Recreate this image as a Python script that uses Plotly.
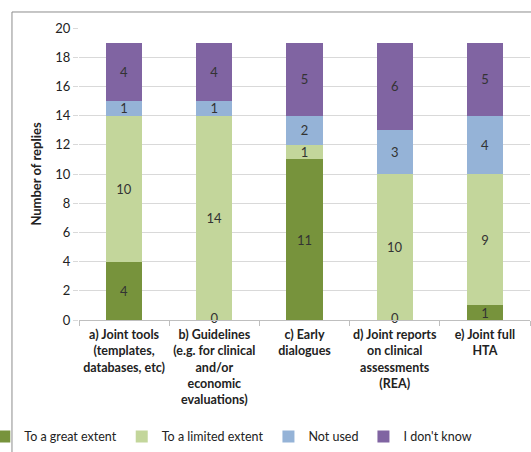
import plotly.graph_objects as go

categories = [
    "a) Joint tools<br>(templates,<br>databases, etc)",
    "b) Guidelines<br>(e.g. for clinical<br>and/or<br>economic<br>evaluations)",
    "c) Early<br>dialogues",
    "d) Joint reports<br>on clinical<br>assessments<br>(REA)",
    "e) Joint full<br>HTA",
]
great_extent = [4, 0, 11, 0, 1]
limited_extent = [10, 14, 1, 10, 9]
not_used = [1, 1, 2, 3, 4]
dont_know = [4, 4, 5, 6, 5]

series = [
    ("To a great extent", great_extent, "#77933C"),
    ("To a limited extent", limited_extent, "#C3D69B"),
    ("Not used", not_used, "#95B3D7"),
    ("I don't know", dont_know, "#8064A2"),
]

FONT = "Lato, 'Liberation Sans', sans-serif"
fig = go.Figure()
for name, vals, color in series:
    fig.add_trace(go.Bar(
        x=categories, y=vals, name=name, marker=dict(color=color, line=dict(width=0)),
        text=[str(v) if v > 0 else "" for v in vals],
        textposition="inside", insidetextanchor="middle", textangle=0,
        constraintext="none",
        textfont=dict(family=FONT, size=13, color="#333333"),
        hoverinfo="skip",
    ))

# zero labels for first series
zero_x = [c for c, v in zip(categories, great_extent) if v == 0]
zero_y = [v for v in great_extent if v == 0]
fig.add_trace(go.Scatter(
    x=zero_x, y=zero_y, mode="text", text=[str(v) for v in zero_y],
    textposition="middle center", showlegend=False, hoverinfo="skip",
    textfont=dict(family=FONT, size=13, color="#333333"), cliponaxis=False,
))

fig.update_layout(
    width=531, height=452,
    barmode="stack", bargap=0.6,
    margin=dict(l=79, r=1, t=28, b=132, autoexpand=False),
    paper_bgcolor="white", plot_bgcolor="white",
    font=dict(family=FONT, size=13, color="#222222"),
    legend=dict(orientation="h", x=-0.21, xanchor="left", y=-0.40, yanchor="middle",
                font=dict(family=FONT, size=12.5, color="#222222"),
                bgcolor="rgba(0,0,0,0)", traceorder="normal", itemwidth=30),
    xaxis=dict(
        type="category", tickson="boundaries", ticks="outside", ticklen=5,
        tickcolor="#BFBFBF", showline=True, linecolor="#BFBFBF", linewidth=1,
        showgrid=False, tickangle=0, automargin=False, ticklabelstandoff=3,
        tickfont=dict(family=FONT, size=12.5, color="#222222"),
    ),
    yaxis=dict(
        range=[0, 20], dtick=2, showgrid=True, gridcolor="#D9D9D9", gridwidth=1,
        ticks="outside", ticklen=5, tickcolor="#D9D9D9", showline=False,
        zeroline=False, automargin=False,
        tickfont=dict(family=FONT, size=13, color="#222222"),
        title=dict(text="<b>Number of replies</b>", standoff=10,
                   font=dict(family=FONT, size=13, color="#222222")),
    ),
    shapes=[
        dict(type="line", xref="paper", yref="paper", x0=-0.1486, x1=1.1, y0=1.0548, y1=1.0548,
             line=dict(color="#8C8C8C", width=1), layer="above"),
        dict(type="line", xref="paper", yref="paper", x0=-0.1486, x1=-0.1486, y0=-0.6, y1=1.0548,
             line=dict(color="#8C8C8C", width=1), layer="above"),
    ],
)

fig.update_xaxes(ticktext=[f"<b>{c}</b>" for c in categories], tickvals=categories)

fig.write_html("out.html", config={"displayModeBar": False},
               post_script="document.body.style.margin='0';document.body.style.overflow='hidden';")
